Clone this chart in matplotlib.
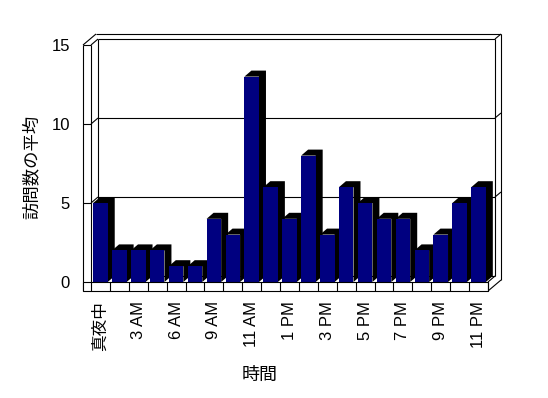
import matplotlib
matplotlib.use("Agg")
import matplotlib.pyplot as plt
from matplotlib.patches import Polygon

plt.rcParams['font.family'] = ['Liberation Sans', 'Noto Sans CJK JP']

categories = ["真夜中", "1 AM", "3 AM", "5 AM", "6 AM", "8 AM", "9 AM", "10 AM",
              "11 AM", "12 PM", "1 PM", "2 PM", "3 PM", "4 PM", "5 PM", "6 PM",
              "7 PM", "8 PM", "9 PM", "10 PM", "11 PM"]
values = [5, 2, 2, 2, 1, 1, 4, 3, 13, 6, 4, 8, 3, 6, 5, 4, 4, 2, 3, 5, 6]
shown_labels = [c if i % 2 == 0 else "" for i, c in enumerate(categories)]
yticks = [0, 5, 10, 15]

W, H = 548, 398
fig = plt.figure(figsize=(W / 100, H / 100), dpi=100)
ax = fig.add_axes([91 / W, (H - 282) / H, 397 / W, 237 / H])
n = len(values)
X0, X1 = -0.5, n - 0.5
YMAX = 15
ax.set_xlim(X0, X1)
ax.set_ylim(0, YMAX)
for s in ax.spines.values():
    s.set_visible(False)
ax.set_facecolor('none')

sx = 397 / n     # px per x unit
sy = 237 / YMAX  # px per y unit


def P(x, y, ox=0.0, oy=0.0):
    return (x + ox / sx, y + oy / sy)


DXp, DYp = 7, 6      # depth offset in px
TXp, TYp = 6, 5      # back wall thickness
LWp = 8              # left wall thickness
FHp = 9              # floor thickness
lw = 0.8
kw = dict(color='black', lw=lw, clip_on=False, solid_capstyle='butt')


def line(p, q, z=1):
    ax.plot([p[0], q[0]], [p[1], q[1]], zorder=z, **kw)


# back wall (inner)
line(P(X0, YMAX, DXp, DYp), P(X1, YMAX, DXp, DYp))
for g in yticks[1:-1]:
    line(P(X0, g, DXp, DYp), P(X1, g, DXp, DYp))
    line(P(X1, g, DXp, DYp), P(X1, g, DXp + TXp, DYp + TYp))
    line(P(X0, g), P(X0, g, DXp, DYp))
    line(P(X0, g, -LWp, 0), P(X0, g))
line(P(X0, 0, DXp, DYp), P(X1, 0, DXp, DYp))
line(P(X1, 0, DXp, DYp), P(X1, YMAX, DXp, DYp))
line(P(X1, YMAX, DXp, DYp), P(X1, YMAX, DXp + TXp, DYp + TYp))
# outer right
line(P(X1, 0, DXp + TXp, DYp + TYp - FHp), P(X1, YMAX, DXp + TXp, DYp + TYp))
# outer top
line(P(X0, YMAX, -LWp, 0), P(X0, YMAX, -LWp + DXp + TXp, DYp + TYp))
line(P(X0, YMAX, -LWp + DXp + TXp, DYp + TYp), P(X1, YMAX, DXp + TXp, DYp + TYp))
# left wall
line(P(X0, 0), P(X0, YMAX))
line(P(X0, 0, DXp, DYp), P(X0, YMAX, DXp, DYp))
line(P(X0, YMAX), P(X0, YMAX, DXp, DYp))
line(P(X0, YMAX, -LWp, 0), P(X0, YMAX))
line(P(X0, 0, -LWp, -FHp), P(X0, YMAX, -LWp, 0))
# floor right side
line(P(X1, 0, 0, -FHp), P(X1, 0, DXp + TXp, DYp + TYp - FHp))
line(P(X1, 0), P(X1, 0, DXp, DYp))

# bars
bars = ax.bar(range(n), values, width=0.77, color='#000080', linewidth=0)
for i, (b, v) in enumerate(zip(bars, values)):
    l = b.get_x()
    r = l + b.get_width()
    poly = Polygon([P(l, v), P(l, v, DXp, DYp), P(r, v, DXp, DYp),
                    P(r, 0, DXp, DYp), P(r, 0), P(r, v)],
                   closed=True, facecolor='black', edgecolor='none',
                   zorder=3 + 2 * i, clip_on=False)
    ax.add_patch(poly)
    b.set_zorder(4 + 2 * i)
    b.set_clip_on(False)

# floor front face
fz = 100
ax.add_patch(Polygon([P(X0, 0, -LWp, 0), P(X1, 0), P(X1, 0, 0, -FHp),
                      P(X0, 0, -LWp, -FHp)], closed=True, facecolor='white',
                     edgecolor='black', lw=lw, zorder=fz, clip_on=False))
for k in range(n + 1):
    xb = X0 + k
    line(P(xb, 0), P(xb, 0, 0, -FHp), z=fz + 1)

# ticks and labels
ax.set_yticks(yticks)
ax.set_yticklabels([str(t) for t in yticks], fontsize=12)
ax.set_xticks(range(n))
ax.set_xticklabels(shown_labels, rotation=90, fontsize=12)
ax.tick_params(axis='both', length=0)
ax.tick_params(axis='y', pad=(LWp + 13) * 0.72)
ax.tick_params(axis='x', pad=(FHp + 10) * 0.72)

fig.text(31 / W, 1 - 167 / H, "訪問数の平均", rotation=90, fontsize=12.5,
         ha='center', va='center')
fig.text(260 / W, 1 - 375 / H, "時間", fontsize=13, ha='center', va='center')

fig.savefig("out.png", dpi=100)
